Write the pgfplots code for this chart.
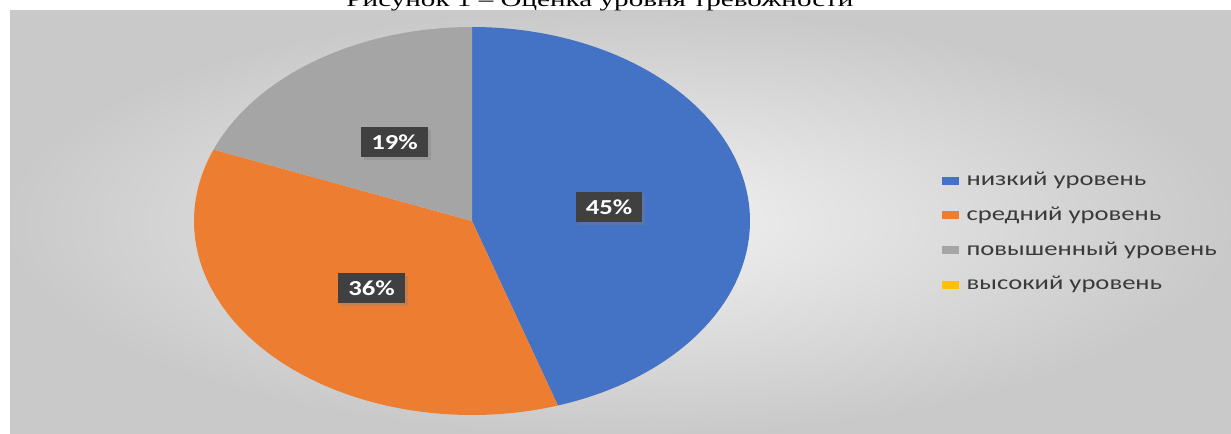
\documentclass[border=0pt]{standalone}
\usepackage{pgfplots}
\pgfplotsset{compat=1.18}
\usepackage{graphicx}
\usepackage{fontspec}
\setmainfont{Liberation Serif}
\newfontfamily\calib{Carlito}
\usetikzlibrary{shadows}
\definecolor{cBlue}{HTML}{4472C4}
\definecolor{cOrange}{HTML}{ED7D31}
\definecolor{cGray}{HTML}{A5A5A5}
\definecolor{cYellow}{HTML}{FFC000}
\definecolor{cLabel}{HTML}{404040}
\definecolor{cText}{HTML}{3A3A3A}
% data (percent)
\def\vLow{45}
\def\vMid{36}
\def\vRaised{19}
\def\vHigh{0}
\begin{document}
\begin{tikzpicture}
\useasboundingbox (0,0) rectangle (923.25pt,325.5pt);
\clip (0,0) rectangle (923.25pt,325.5pt);
\pgfmathsetmacro\aA{90-3.6*\vLow}
\pgfmathsetmacro\aB{\aA-3.6*\vMid}
\pgfmathsetmacro\aC{\aB-3.6*\vRaised}
\begin{axis}[
  at={(0,0)}, anchor=south west,
  scale only axis, width=923.25pt, height=325.5pt,
  xmin=0, xmax=1231, ymin=0, ymax=434, y dir=reverse,
  hide axis, clip=false,
  legend image code/.code={\fill[#1] (0pt,-1.5pt) rectangle (12.75pt,4.5pt);},
  legend style={at={(axis cs:942,175)}, anchor=north west, draw=none, fill=none,
    inner sep=0pt, row sep=15pt, legend cell align=left,
    font=\calib\fontsize{15}{18}\selectfont,
    nodes={inner sep=0pt, text=cText, text height=8pt, text depth=3pt},
    /tikz/every odd column/.style={column sep=5.5pt}},
]
\shade[inner color=white!95!black, outer color=white!79!black]
  (axis cs:10,11) rectangle (axis cs:1231,434);
\node[anchor=base, font=\fontsize{15.6}{18}\selectfont] at (axis cs:600,7)
  {\scalebox{1.4}[1]{Рисунок 1 – Оценка уровня тревожности}};
\addplot[draw=none, fill=cBlue, domain=\aA:90, samples=120]
  ({472+278*cos(x)},{221-194*sin(x)}) -- (axis cs:472,221) -- cycle;
\addlegendentry{\scalebox{1.33}[1]{низкий уровень}}
\addplot[draw=none, fill=cOrange, domain=\aB:\aA, samples=120]
  ({472+278*cos(x)},{221-194*sin(x)}) -- (axis cs:472,221) -- cycle;
\addlegendentry{\scalebox{1.33}[1]{средний уровень}}
\addplot[draw=none, fill=cGray, domain=\aC:\aB, samples=80]
  ({472+278*cos(x)},{221-194*sin(x)}) -- (axis cs:472,221) -- cycle;
\addlegendentry{\scalebox{1.33}[1]{повышенный уровень}}
\addlegendimage{draw=none, fill=cYellow}
\addlegendentry{\scalebox{1.33}[1]{высокий уровень}}
\tikzset{lbl/.style={fill=cLabel, text=white, minimum width=50pt, minimum height=22.5pt,
  inner sep=0pt, font=\calib\bfseries\fontsize{16}{16}\selectfont,
  drop shadow={opacity=0.35, shadow xshift=2pt, shadow yshift=-2pt}}}
\node[lbl] at (axis cs:394.5,142) {\scalebox{1.25}[1]{19\%}};
\node[lbl] at (axis cs:609,207) {\scalebox{1.25}[1]{45\%}};
\node[lbl] at (axis cs:371.5,288) {\scalebox{1.25}[1]{36\%}};
\end{axis}
\end{tikzpicture}
\end{document}
